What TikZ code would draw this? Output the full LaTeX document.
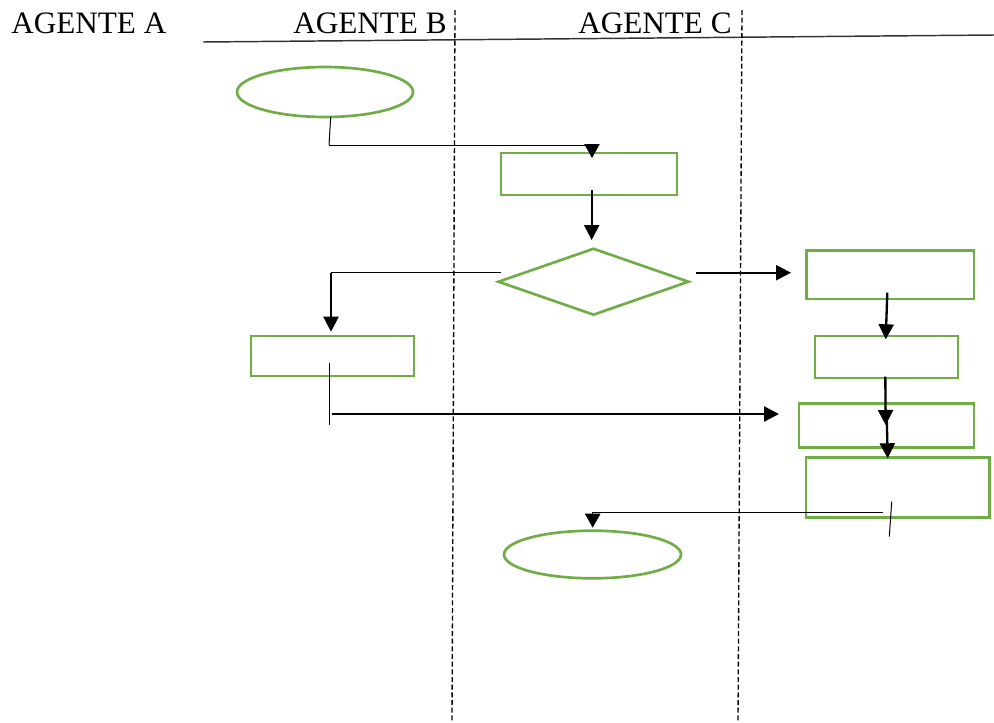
\documentclass[tikz,border=0pt]{standalone}
\usepackage{fontspec}
\setmainfont{Liberation Serif}
\usetikzlibrary{arrows.meta,shapes.geometric}
\definecolor{shapegreen}{HTML}{70AD47}
\tikzset{
  box/.style={draw=shapegreen,line width=2pt,rectangle,inner sep=0pt},
  oval/.style={draw=shapegreen,line width=2pt,ellipse,inner sep=0pt},
  decision/.style={draw=shapegreen,line width=2pt,diamond,inner sep=0pt},
  lane/.style={line width=1pt,black,dash pattern=on 3.75pt off 2pt},
  thin/.style={line width=0.75pt},
  thick flow/.style={line width=1.75pt,-{Triangle[length=11.25pt,width=11.25pt]}},
  thin flow/.style={line width=0.75pt,-{Triangle[length=10.5pt,width=11.5pt]}},
  title/.style={inner sep=0pt,anchor=base west,font=\fontsize{23.4pt}{28pt}\selectfont},
}
\begin{document}
\begin{tikzpicture}[x=0.75pt,y=-0.75pt]
\useasboundingbox (0,0) rectangle (994,722);

% lane headers
\node[title] (ta) at (11,33) {AGENTE A};
\node[title] (tb) at (293,33) {AGENTE B};
\node[title] (tc) at (578,33) {AGENTE C};
\coordinate (hl) at (203,42);
\coordinate (hr) at (994,35);
\draw[line width=1.1pt,black!80] (hl) -- (hr);

% lane separators
\coordinate (s1t) at (455,10);
\coordinate (s1b) at (452,722);
\coordinate (s2t) at (742,10);
\coordinate (s2b) at (738,722);
\draw[lane] (s1t) -- (s1b);
\draw[lane] (s2t) -- (s2b);

% shapes
\node[oval,minimum width=132pt,minimum height=37.5pt] (start) at (325,92) {};
\node[box,minimum width=132pt,minimum height=31.5pt] (r1) at (589,174) {};
\node[decision,minimum width=143.25pt,minimum height=50.25pt] (d) at (593.5,281.7) {};
\node[box,minimum width=122.25pt,minimum height=30pt] (r2) at (332.5,356) {};
\node[box,minimum width=125.5pt,minimum height=36.2pt] (r3) at (890.3,274.8) {};
\node[box,minimum width=107.25pt,minimum height=31.5pt] (r4) at (886.5,357) {};
\node[box,minimum width=131.25pt,minimum height=33.3pt] (r5) at (886.5,425.5) {};
\node[box,minimum width=137.5pt,minimum height=44.7pt] (r6) at (897.7,487.5) {};
\node[oval,minimum width=132.75pt,minimum height=35.7pt] (end) at (592.5,554.5) {};

% connector points
\coordinate (a1) at (330.7,117);
\coordinate (a2) at (329,145);
\coordinate (a3) at (592,145);
\coordinate (a4) at (592,158);
\coordinate (b1) at (591.7,190);
\coordinate (b2) at (591.7,240);
\coordinate (c1) at (501,272.7);
\coordinate (c2) at (331,272.7);
\coordinate (c3) at (331,331.7);
\coordinate (e1) at (695.7,272.7);
\coordinate (e2) at (791,272.7);
\coordinate (f1) at (329.3,363);
\coordinate (f2) at (329.3,425);
\coordinate (g1) at (331.7,414);
\coordinate (g2) at (779,414);
\coordinate (h1) at (887.3,292.7);
\coordinate (h2) at (885.7,339.3);
\coordinate (i1) at (885.3,376.7);
\coordinate (i2) at (885.7,425);
\coordinate (j1) at (886.7,416.7);
\coordinate (j2) at (887.7,458.3);
\coordinate (k1) at (883.3,512);
\coordinate (k2) at (592.7,512);
\coordinate (k3) at (592.7,527.7);
\coordinate (m1) at (891.7,501.7);
\coordinate (m2) at (889.3,536.7);

% connectors
\draw[thin] (a1) -- (a2);
\draw[thin flow] (a2) -- (a3) -- (a4);
\draw[thick flow] (b1) -- (b2);
\draw[thin] (c1) -- (c2);
\draw[thick flow] (c2) -- (c3);
\draw[thick flow] (e1) -- (e2);
\draw[thin] (f1) -- (f2);
\draw[thick flow] (g1) -- (g2);
\draw[thick flow] (h1) -- (h2);
\draw[thick flow] (i1) -- (i2);
\draw[thick flow] (j1) -- (j2);
\draw[thin flow] (k1) -- (k2) -- (k3);
\draw[thin] (m1) -- (m2);
\end{tikzpicture}
\end{document}
